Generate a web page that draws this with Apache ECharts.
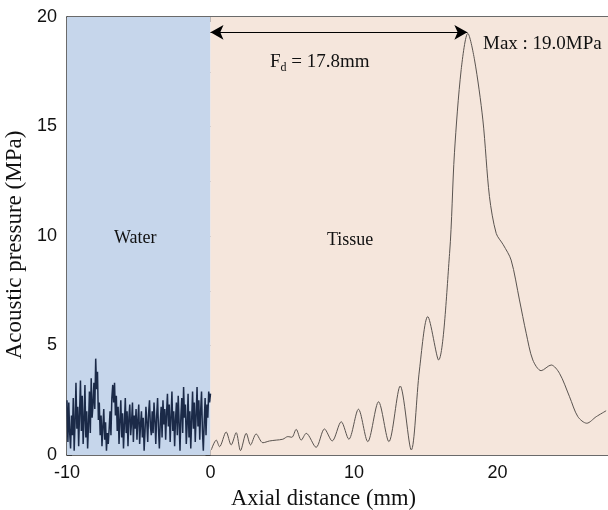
<!DOCTYPE html>
<html>
<head>
<meta charset="utf-8">
<script src="https://cdn.jsdelivr.net/npm/echarts@6/dist/echarts.min.js"></script>
<style>
  html, body { margin: 0; padding: 0; background: #fff; }
  #chart { width: 608px; height: 510px; }
</style>
</head>
<body>
<div id="chart"></div>
<script>
// water region: x from -10 to 0, step 0.0625 mm
const waterStart = -10
const waterStep = 0.0625
const waterValues = [
  2.5, 0.6, 2.4, 1.0, 0.3, 1.8, 0.9, 2.6, 0.2, 1.5, 3.3, 1.2, 2.2, 0.4, 1.9, 3.4,
  1.1, 2.7, 0.5, 1.6, 3.2, 0.8, 2.0, 0.3, 1.4, 2.9, 1.0, 3.5, 1.7, 2.3, 3.3, 2.1,
  4.4, 3.0, 3.8, 1.6, 2.4, 0.9, 1.8, 0.4, 1.3, 2.1, 0.7, 1.5, 0.2, 1.0, 0.5, 1.2,
  2.0, 0.9, 2.6, 3.2, 2.4, 3.3, 1.8, 2.7, 1.1, 2.2, 0.5, 1.6, 2.5, 0.8, 1.9, 0.3,
  1.4, 2.6, 1.0, 2.0, 0.4, 1.7, 2.3, 0.9, 1.5, 2.4, 0.6, 1.8, 1.2, 2.1, 0.7, 1.6,
  2.3, 0.5, 1.4, 2.0, 0.8, 1.7, 0.2, 1.1, 2.2, 1.5, 0.6, 1.9, 2.5, 1.3, 0.9, 2.0,
  1.0, 2.4, 1.6, 0.5, 1.8, 2.6, 1.2, 0.3, 1.5, 2.2, 0.8, 2.5, 1.4, 2.1, 0.7, 1.9,
  2.8, 1.3, 2.3, 0.6, 1.7, 2.9, 1.1, 2.0, 0.4, 1.6, 2.4, 0.9, 2.7, 1.5, 0.2, 1.8,
  2.6, 1.0, 3.1, 1.7, 2.3, 0.5, 1.4, 2.8, 0.8, 2.0, 0.3, 1.6, 2.9, 1.2, 2.4, 0.6,
  1.8, 3.1, 1.3, 2.5, 0.7, 2.0, 2.9, 1.1, 0.2, 1.5, 2.6, 0.9, 2.3, 1.7, 2.9, 2.4, 2.8
]

// tissue region: [axial distance mm, pressure MPa]
const tissueX = [
  0.05, 0.4, 0.63, 1.09, 1.44, 1.79, 2.09, 2.49, 2.79, 3.18, 3.65, 4.11, 4.58, 5.04,
  5.39, 5.67, 5.97, 6.32, 6.67, 7.36, 7.94, 8.48, 9.11, 9.64, 10.31, 10.96, 11.71,
  12.43, 13.22, 13.99, 14.56, 15.14, 15.89, 16.66, 17.0, 17.47, 17.93, 18.4, 18.98,
  19.44, 19.91, 20.4, 20.95, 21.53, 22.0, 22.46, 23.04, 23.74, 24.32, 25.02, 25.6,
  26.22, 26.88, 27.57
]
const tissueY = [
  0.23, 0.68, 0.38, 1.05, 0.46, 1.02, 0.2, 0.99, 0.46, 0.96, 0.56, 0.64, 0.68, 0.72,
  0.84, 0.81, 1.17, 0.68, 0.99, 0.35, 1.19, 0.64, 1.52, 0.72, 2.09, 0.61, 2.43,
  0.61, 3.15, 0.23, 3.88, 6.32, 4.34, 9.2, 13.8, 17.6, 19.25, 18.04, 15.3,
  11.8, 10.12, 9.6, 8.9, 7.08, 5.56, 4.34, 3.85, 4.11, 3.73, 2.66, 1.75,
  1.45, 1.75, 2.02
]

const xMin = -10
const xMax = 27.7
const focalStart = 0
const focalEnd = 17.9
const arrowLevel = 19.3

const waterData = waterValues.map((v, i) => [waterStart + i * waterStep, v])
const tissueData = tissueX.map((x, i) => [x, tissueY[i]])

const serif = '"Liberation Serif", "Times New Roman", serif'
const sans = '"Liberation Sans", Arial, sans-serif'
const axisColor = '#3a3a3a'

const chart = echarts.init(document.getElementById('chart'))
chart.setOption({
  animation: false,
  grid: { left: 67, right: 0, top: 17, bottom: 55, outerBoundsMode: 'none', containLabel: false },
  xAxis: [{
    type: 'value',
    min: xMin,
    max: xMax,
    interval: 5,
    name: 'Axial distance (mm)',
    nameLocation: 'middle',
    nameGap: 33,
    nameTextStyle: { fontFamily: serif, fontSize: 22.5, color: '#111', padding: [0, 28, 0, 0] },
    axisLine: { onZero: false, lineStyle: { color: axisColor, width: 1.5 } },
    axisTick: { inside: true, length: 5, lineStyle: { color: axisColor } },
    axisLabel: {
      fontFamily: sans, fontSize: 18, color: '#111', margin: 9,
      showMaxLabel: false,
      formatter: v => (v % 10 === 0 ? String(v) : '')
    },
    splitLine: { show: false }
  }, {
    type: 'value',
    position: 'top',
    min: xMin,
    max: xMax,
    interval: 5,
    axisLine: { onZero: false, lineStyle: { color: axisColor, width: 1.5 } },
    axisTick: { inside: true, length: 5, lineStyle: { color: axisColor } },
    axisLabel: { show: false },
    splitLine: { show: false }
  }],
  yAxis: [{
    type: 'value',
    min: 0,
    max: 20,
    interval: 2.5,
    name: 'Acoustic pressure (MPa)',
    nameLocation: 'middle',
    nameGap: 37,
    nameTextStyle: { fontFamily: serif, fontSize: 23, color: '#111', padding: [0, 18, 0, 0] },
    axisLine: { onZero: false, lineStyle: { color: axisColor, width: 1.5 } },
    axisTick: { inside: true, length: 5, lineStyle: { color: axisColor } },
    axisLabel: {
      fontFamily: sans, fontSize: 18, color: '#111', margin: 10,
      formatter: v => (v % 5 === 0 ? String(v) : '')
    },
    splitLine: { show: false }
  }, {
    type: 'value',
    position: 'right',
    min: 0,
    max: 20,
    interval: 2.5,
    axisLine: { show: false },
    axisTick: { show: true, inside: true, length: 5, lineStyle: { color: axisColor } },
    axisLabel: { show: false },
    splitLine: { show: false }
  }],
  series: [{
    name: 'Water',
    type: 'line',
    data: waterData,
    symbol: 'none',
    lineStyle: { color: '#1b2a48', width: 1.5 },
    z: 3,
    markArea: {
      silent: true,
      itemStyle: { color: '#c6d6eb' },
      data: [[{ xAxis: xMin }, { xAxis: 0 }]]
    }
  }, {
    name: 'Tissue',
    type: 'line',
    data: tissueData,
    symbol: 'none',
    smooth: 0.3,
    lineStyle: { color: '#5a5450', width: 1 },
    z: 3,
    markArea: {
      silent: true,
      itemStyle: { color: '#f5e6dc' },
      data: [[{ xAxis: 0 }, { xAxis: xMax }]]
    },
    markLine: {
      silent: true,
      symbol: ['arrow', 'arrow'],
      symbolSize: [11, 13],
      lineStyle: { color: '#000', width: 1, type: 'solid' },
      label: { show: false },
      data: [[{ coord: [focalStart, arrowLevel] }, { coord: [focalEnd, arrowLevel] }]]
    }
  }],
  graphic: [{
    type: 'text',
    z: 100,
    left: 270,
    top: 53,
    style: {
      text: '{m|F}{s|d}{m| = 17.8mm}',
      rich: {
        m: { fontFamily: serif, fontSize: 19, fill: '#111' },
        s: { fontFamily: serif, fontSize: 12, fill: '#111', verticalAlign: 'bottom', padding: [10, 0, 0, 0] }
      }
    }
  }, {
    type: 'text',
    z: 100,
    left: 483,
    top: 35,
    style: { text: 'Max : 19.0MPa', fontFamily: serif, fontSize: 19, fill: '#111' }
  }, {
    type: 'text',
    z: 100,
    left: 114,
    top: 229,
    style: { text: 'Water', fontFamily: serif, fontSize: 18, fill: '#111' }
  }, {
    type: 'text',
    z: 100,
    left: 327,
    top: 231,
    style: { text: 'Tissue', fontFamily: serif, fontSize: 18, fill: '#111' }
  }]
})
</script>
</body>
</html>
